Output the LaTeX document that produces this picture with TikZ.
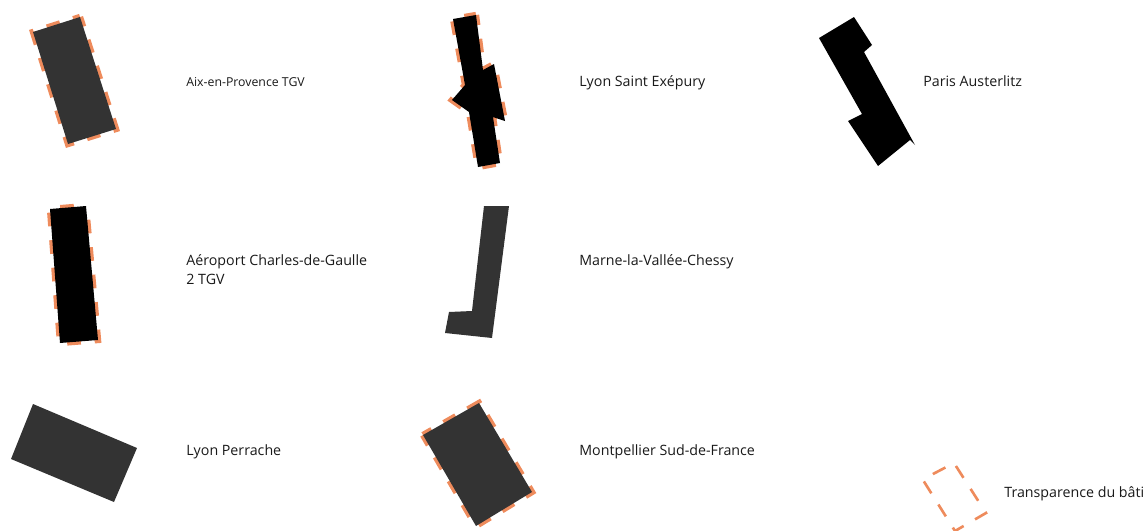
\documentclass[tikz,border=0pt]{standalone}
\usepackage{fontspec}
\setmainfont{Open Sans}
\usepackage{tikz}
\definecolor{contourorange}{HTML}{EE8B5C}
\definecolor{batigris}{HTML}{333333}

\tikzset{
  transparence/.style={draw=contourorange, line width=3.6pt, dash pattern=on 7.8pt off 7.9pt},
  gare/.style={preaction={transparence, dash phase=#1}},
  gare/.default=0pt,
  nomgare/.style={anchor=west, inner sep=0pt, align=left, font=\fontsize{8.1}{11}\selectfont, text=black!90}
}

\begin{document}
\begin{tikzpicture}[x=0.02cm, y=-0.02cm]
  \useasboundingbox (0, 0) rectangle (1144, 531);

  % Aix
  \fill[batigris, gare=2pt] (80, 17) -- (116, 129) -- (68, 144) -- (33, 32) -- cycle;
  \node[nomgare, font=\fontsize{7}{10}\selectfont] (aix) at (186, 82.5) {Aix-en-Provence TGV};

  % Saint Exupery
  \fill[black, gare=2pt] (476, 15) -- (483, 70) -- (494, 64) -- (505, 121) -- (493, 117) -- (500, 163) -- (478, 167) -- (469, 112) -- (452, 100) -- (465, 85) -- (453, 19) -- cycle;
  \node[nomgare] (exupery) at (579, 83) {Lyon Saint Exépury};

  % Austerlitz
  \fill[black] (819, 38) -- (854, 17) -- (872, 45) -- (864, 52) -- (915, 145) -- (910, 140) -- (878, 166) -- (848, 121) -- (862, 114) -- cycle;
  \node[nomgare] (austerlitz) at (923, 81.5) {Paris Austerlitz};

  % Roissy
  \fill[black, gare=7.8pt] (86, 206) -- (98, 340) -- (60, 343) -- (50, 209) -- cycle;
  \node[nomgare] (roissy) at (186, 269.5) {Aéroport Charles-de-Gaulle\\2 TGV};

  % Chessy
  \fill[batigris] (484, 206) -- (509, 206) -- (492, 338) -- (445, 333) -- (449, 312) -- (472, 311) -- cycle;
  \node[nomgare] (chessy) at (579, 261.5) {Marne-la-Vallée-Chessy};

  % Perrache
  \fill[batigris] (33, 404) -- (137, 448) -- (114, 502) -- (11, 459) -- cycle;
  \node[nomgare] (perrache) at (186, 452) {Lyon Perrache};

  % Montpellier
  \fill[batigris, gare=2pt] (423, 435) -- (479, 403) -- (532, 492) -- (476, 526) -- cycle;
  \node[nomgare] (montpellier) at (579, 452) {Montpellier Sud-de-France};

  % Legende
  \draw[contourorange, line width=1.5pt, dash pattern=on 8pt off 7.5pt] (933, 474) -- (954, 463) -- (986, 513) -- (955, 531) -- (923, 480) -- cycle;
  \node[nomgare] (legende) at (1004, 494) {Transparence du bâti};
\end{tikzpicture}
\end{document}
